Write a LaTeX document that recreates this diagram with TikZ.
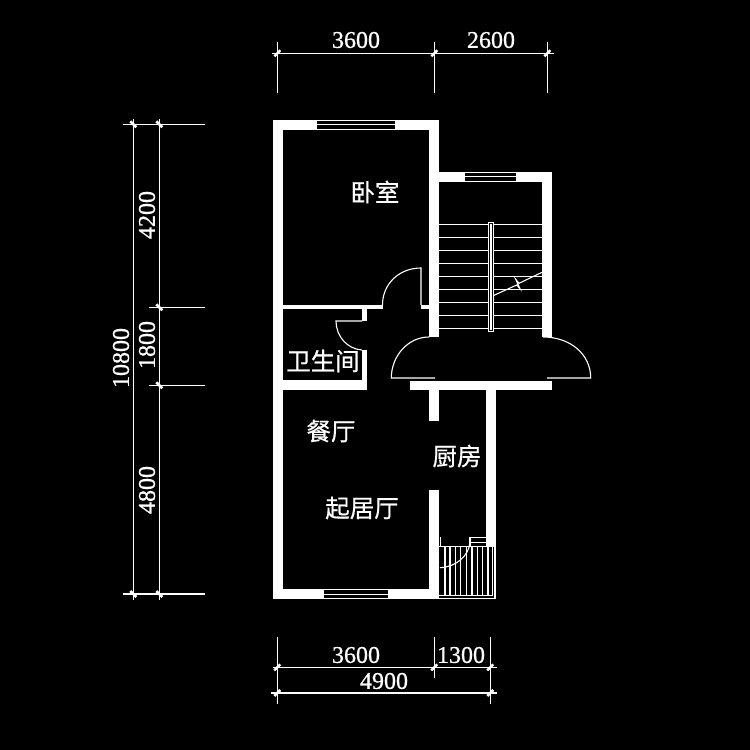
\documentclass[tikz,border=0pt]{standalone}
\usepackage{fontspec}
\setmainfont[RawFeature={embolden=0.8}]{Liberation Serif}
\newfontfamily\cjk[RawFeature={embolden=0.6}]{Noto Sans CJK SC}
\tikzset{
  wall/.style={fill=white,draw=none},
  thin line/.style={draw=white,line width=1.1pt},
  glass/.style={fill=black,draw=none},
  tick/.style={draw=white,line width=2.6pt},
  dim/.style={text=white,inner sep=0pt,font=\fontsize{24}{24}\selectfont},
  room/.style={text=white,inner sep=0pt,font=\cjk\fontsize{24.5}{25}\selectfont}
}
\begin{document}
\begin{tikzpicture}[x=1pt,y=-1pt]
\useasboundingbox (0,0) rectangle (750,750);
\fill[black] (0,0) rectangle (750,750);
% walls
\fill[wall] (273,120) rectangle (283,599);
\fill[wall] (273,120) rectangle (439,130);
\fill[wall] (429,120) rectangle (439,337);
\fill[wall] (439,172) rectangle (552,182);
\fill[wall] (542,172) rectangle (552,337);
\fill[wall] (273,589) rectangle (439,599);
\fill[wall] (283,380) rectangle (367,390);
\fill[wall] (362,350) rectangle (367,390);
\fill[wall] (362,309) rectangle (367,321);
\fill[wall] (283,305) rectangle (382.5,309);
\fill[wall] (421,305) rectangle (429,309);
\fill[wall] (410,381) rectangle (552,390);
\fill[wall] (429,390) rectangle (439,421);
\fill[wall] (429,490) rectangle (439,599);
\fill[wall] (486,390) rectangle (496,546.5);
% windows
\fill[glass] (317,121) rectangle (395,124.3);
\fill[glass] (317,125.2) rectangle (395,129);
\fill[glass] (465,173) rectangle (516,175.6);
\fill[glass] (465,176.6) rectangle (516,181);
\fill[glass] (324,590) rectangle (388,593.8);
\fill[glass] (324,594.8) rectangle (388,598);
% stairs
\foreach \yy in {224.3,237.3,250.3,263.3,276.3,289.3,302.3,315.3,328.3}
  \draw[thin line] (439,\yy) -- (542,\yy);
\fill[black] (488.5,222.5) rectangle (493.5,331.5);
\draw[thin line] (488.5,222.5) rectangle (493.5,331.5);
\draw[thin line] (491,224) -- (491,330);
\draw[thin line] (494,295.3) -- (516.7,285) -- (520,288.7) -- (515.7,279.3) -- (519,283.3) -- (542,272.3);
% doors
\draw[thin line] (382.5,305) .. controls (382.5,284) and (399,268) .. (421,268) -- (421,305);
\draw[thin line] (362,321) -- (336,321) .. controls (336,336) and (347,349) .. (362,350);
\draw[thin line] (435,378) -- (391.3,378) .. controls (391.3,356) and (408,337) .. (429,337);
\draw[thin line] (547,378) -- (590.7,378) .. controls (590.7,354) and (570,337) .. (543,337);
% balcony
\foreach \xx in {445,450,455.7,460.7,466.3,472,477.3,482.7,488,492.7}
  \draw[thin line] (\xx,546.5) -- (\xx,595.7);
\draw[thin line] (439,546.5) -- (495,546.5) -- (495,598.3) -- (439,598.3);
\draw[thin line] (439,595.7) -- (492.7,595.7);
\draw[thin line] (440.3,537) -- (440.3,546.5);
\draw[thin line] (440,567.7) .. controls (456,567) and (469,556) .. (470,542);
\draw[thin line] (470,546.5) -- (470,537.3) -- (486,537.3);
\draw[thin line] (470,542.3) -- (486,542.3);
% top dimensions
\draw[thin line] (272,53.3) -- (554,53.3);
\draw[thin line] (277.3,41.7) -- (277.3,92.7);
\draw[thin line] (434.3,41.7) -- (434.3,92.7);
\draw[thin line] (547.3,41.7) -- (547.3,92.7);
\foreach \xx in {277.3,434.3,547.3}
  \draw[tick] (\xx-3,56.3) -- (\xx+3,50.3);
% bottom dimensions
\draw[thin line] (273,667.3) -- (497,667.3);
\draw[thin line] (271,693) -- (497,693);
\draw[thin line] (277.3,636.7) -- (277.3,703.7);
\draw[thin line] (434.3,636.7) -- (434.3,677.7);
\draw[thin line] (490.3,636.7) -- (490.3,703.7);
\foreach \xx in {277.3,434.3,490.3}
  \draw[tick] (\xx-3,670.3) -- (\xx+3,664.3);
\foreach \xx in {277.3,490.3}
  \draw[tick] (\xx-3,696) -- (\xx+3,690);
% left dimensions
\draw[thin line] (133.3,119) -- (133.3,600);
\draw[thin line] (159.3,119) -- (159.3,600);
\draw[thin line] (122.7,124.3) -- (205,124.3);
\draw[thin line] (149,307.3) -- (205,307.3);
\draw[thin line] (149,385.3) -- (205,385.3);
\draw[thin line] (122.7,594) -- (205,594);
\foreach \xx/\yy in {133.3/124.3,159.3/124.3,159.3/307.3,159.3/385.3,133.3/594,159.3/594}
  \draw[tick] (\xx-3,\yy-3) -- (\xx+3,\yy+3);
% labels
\node[dim] (dTopA) at (356,40) {3600};
\node[dim] (dTopB) at (491,40) {2600};
\node[dim] (dBotA) at (356,655) {3600};
\node[dim] (dBotB) at (461,655) {1300};
\node[dim] (dBotC) at (384,681) {4900};
\node[dim,rotate=90] (dLeftA) at (147,215) {4200};
\node[dim,rotate=90] (dLeftB) at (147,345) {1800};
\node[dim,rotate=90] (dLeftC) at (147,490) {4800};
\node[dim,rotate=90] (dLeftD) at (121,358) {10800};
\node[room] (bed) at (375,192) {卧室};
\node[room] (bath) at (323,361) {卫生间};
\node[room] (dine) at (331,431) {餐厅};
\node[room] (kitchen) at (457,456) {厨房};
\node[room] (living) at (362,508) {起居厅};
\end{tikzpicture}
\end{document}
